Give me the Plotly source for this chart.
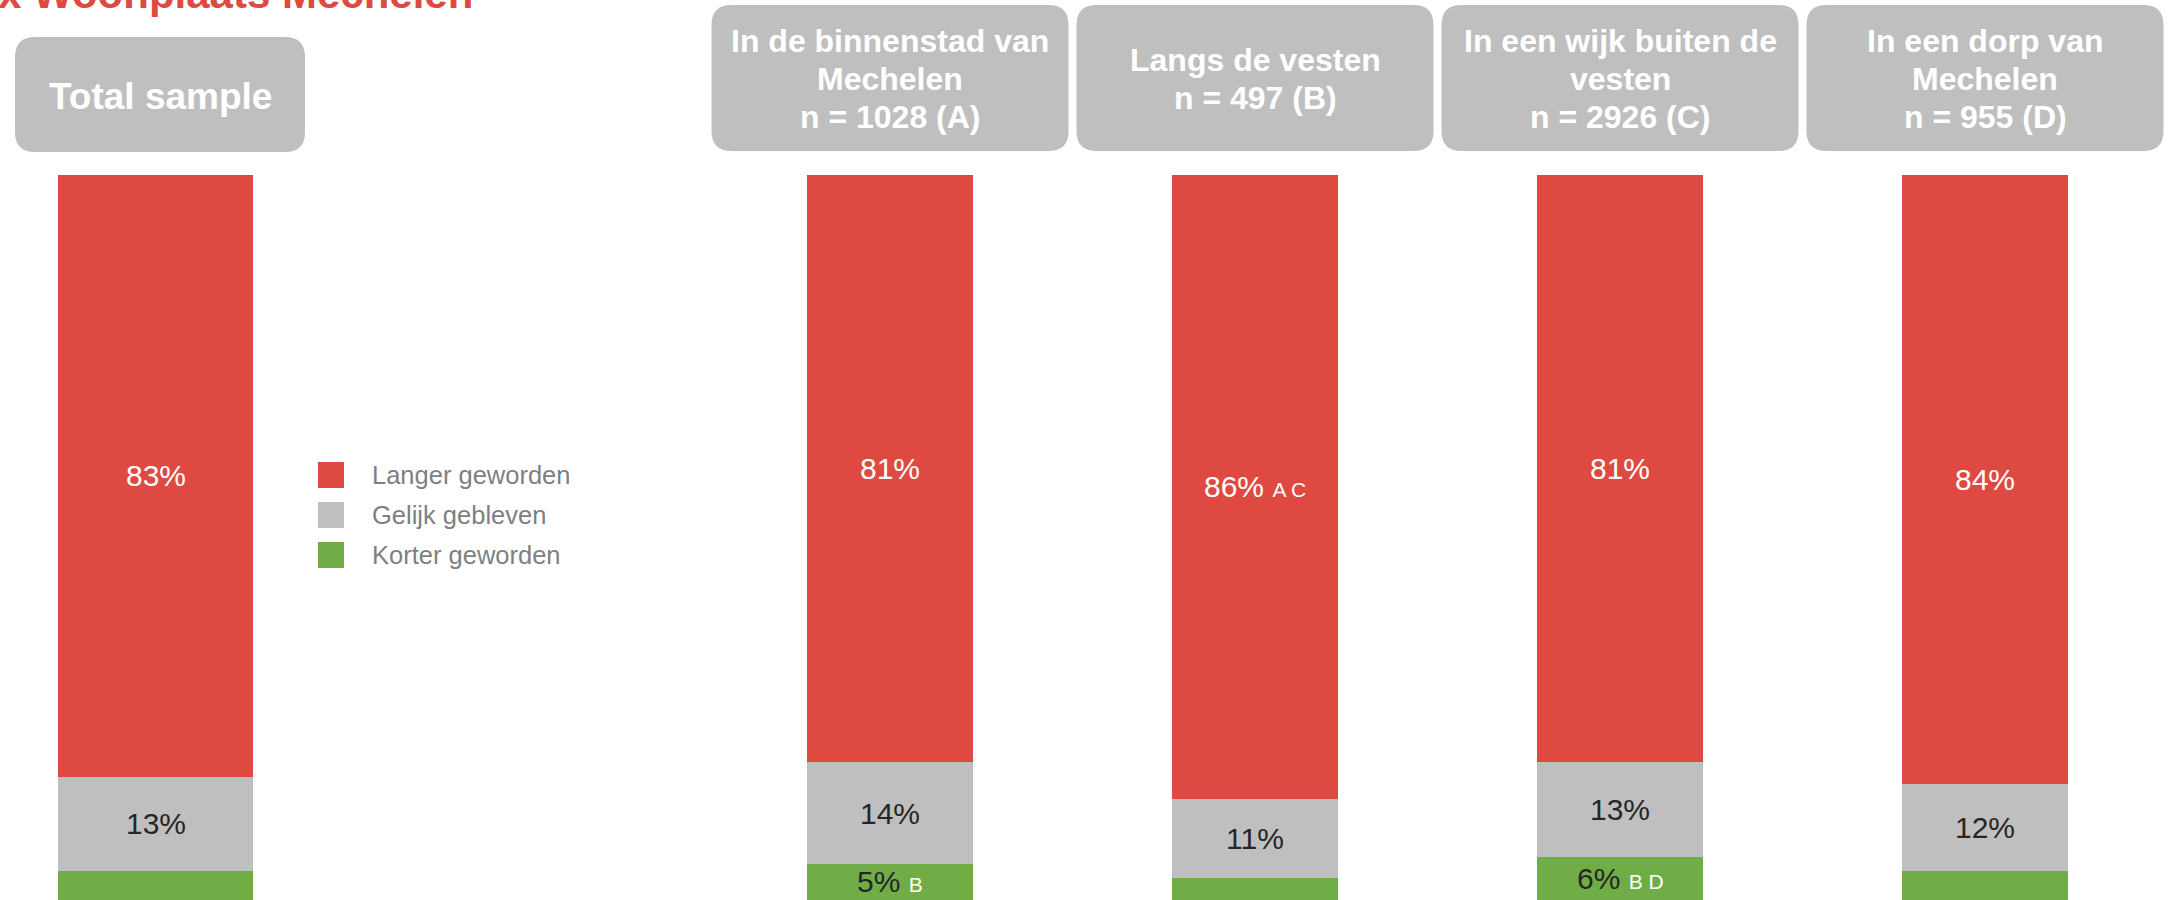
import plotly.graph_objects as go

# ---------------- data ----------------
categories = ["Total sample", "In de binnenstad van Mechelen", "Langs de vesten",
              "In een wijk buiten de vesten", "In een dorp van Mechelen"]
header_lines = [
    ["Total sample"],
    ["In de binnenstad van", "Mechelen", "n = 1028 (A)"],
    ["Langs de vesten", "n = 497 (B)"],
    ["In een wijk buiten de", "vesten", "n = 2926 (C)"],
    ["In een dorp van", "Mechelen", "n = 955 (D)"],
]
series_names = ["Langer geworden", "Gelijk gebleven", "Korter geworden"]
langer = [83, 81, 86, 81, 84]
gelijk = [13, 14, 11, 13, 12]
korter = [4, 5, 3, 6, 4]
sig_langer = ["", "", "A C", "", ""]
sig_gelijk = ["", "", "", "", ""]
sig_korter = ["", "B", "", "B D", ""]
title_text = "x Woonplaats Mechelen"

# ---------------- layout / style ----------------
W, H, TOP = 2172, 900, 175
PLOT_H = H - TOP
UNIT = 365.0          # px per slot
X0PX = 160.0          # px of slot 0
slots = [-0.012, 2, 3, 4, 5]
header_slots = [0, 2, 3, 4, 5]
bar_widths = [0.534, 0.455, 0.455, 0.455, 0.455]
xr = [-X0PX / UNIT, (W - X0PX) / UNIT]

RED, GREY, GREEN = "#DE4A41", "#BFBFBF", "#70AD47"
FONT = "Liberation Sans, Arial, sans-serif"


def px_x(p):
    return p / W


def px_y(p):
    return (H - p) / PLOT_H


def slot_px(s):
    return X0PX + UNIT * s


fig = go.Figure()
for vals, name, col in [(korter, series_names[2], GREEN),
                        (gelijk, series_names[1], GREY),
                        (langer, series_names[0], RED)]:
    fig.add_trace(go.Bar(x=slots, y=vals, width=bar_widths, name=name,
                         marker=dict(color=col, line=dict(width=0)),
                         showlegend=False, hoverinfo="name+y"))

annotations = []
shapes = []

# segment labels
for i in range(len(categories)):
    base = 0
    for vals, sigs, col in [(korter, sig_korter, "#262626"),
                            (gelijk, sig_gelijk, "#262626"),
                            (langer, sig_langer, "#FFFFFF")]:
        v = vals[i]
        if v >= 5:
            txt = f"{v}%"
            if sigs[i]:
                txt += f" <span style='font-size:21px;color:#FFFFFF'>{sigs[i]}</span>"
            annotations.append(dict(x=slots[i], y=base + v / 2, xref="x", yref="y",
                                    text=txt, showarrow=False, xanchor="center",
                                    yanchor="middle",
                                    font=dict(family=FONT, size=30, color=col)))
        base += v


# header boxes
def rounded_path(x0, x1, y0, y1, r):
    X0, X1 = px_x(x0), px_x(x1)
    Yt, Yb = px_y(y0), px_y(y1)
    rx, ry = r / W, r / PLOT_H
    return (f"M {X0+rx},{Yt} L {X1-rx},{Yt} Q {X1},{Yt} {X1},{Yt-ry} "
            f"L {X1},{Yb+ry} Q {X1},{Yb} {X1-rx},{Yb} L {X0+rx},{Yb} "
            f"Q {X0},{Yb} {X0},{Yb+ry} L {X0},{Yt-ry} Q {X0},{Yt} {X0+rx},{Yt} Z")


for i, lines in enumerate(header_lines):
    cx = slot_px(header_slots[i])
    if i == 0:
        half, ytop, ybot, fsize, tcenter, spacing = 145, 37, 152, 37, 96, 38
    else:
        half, ytop, ybot, fsize, tcenter, spacing = 178.5, 5, 151, 32, 79, 38
    shapes.append(dict(type="path", xref="paper", yref="paper",
                       path=rounded_path(cx - half, cx + half, ytop, ybot, 20),
                       fillcolor=GREY, line=dict(width=0), layer="below"))
    n = len(lines)
    for j, ln in enumerate(lines):
        yc = tcenter + (j - (n - 1) / 2) * spacing
        annotations.append(dict(x=px_x(cx), y=px_y(yc), xref="paper", yref="paper",
                                text=ln, showarrow=False, xanchor="center",
                                yanchor="middle",
                                font=dict(family=FONT, size=fsize, color="#FFFFFF",
                                          weight="bold")))

# legend (manual)
for k, (name, col) in enumerate(zip(series_names, [RED, GREY, GREEN])):
    yc = 475 + 40 * k
    shapes.append(dict(type="rect", xref="paper", yref="paper",
                       x0=px_x(318), x1=px_x(344), y0=px_y(yc + 13), y1=px_y(yc - 13),
                       fillcolor=col, line=dict(width=0)))
    annotations.append(dict(x=px_x(370), y=px_y(yc), xref="paper", yref="paper",
                            text=name, showarrow=False, xanchor="left", yanchor="middle",
                            font=dict(family=FONT, size=25.5, color="#7F7F7F")))

# title (cut at top of page)
annotations.append(dict(x=px_x(-4), y=px_y(-7), xref="paper", yref="paper",
                        text=title_text, showarrow=False, xanchor="left", yanchor="middle",
                        font=dict(family=FONT, size=42, color=RED, weight="bold")))

fig.update_layout(
    width=W, height=H,
    margin=dict(l=0, r=0, t=TOP, b=0, pad=0),
    paper_bgcolor="#FFFFFF", plot_bgcolor="#FFFFFF",
    barmode="stack",
    xaxis=dict(range=xr, visible=False, fixedrange=True),
    yaxis=dict(range=[0, 100], visible=False, fixedrange=True),
    annotations=annotations, shapes=shapes,
    showlegend=False,
)

fig.write_html("out.html",
               config={"displayModeBar": False},
               post_script="document.body.style.margin='0';"
                           "document.body.style.overflow='hidden';")
